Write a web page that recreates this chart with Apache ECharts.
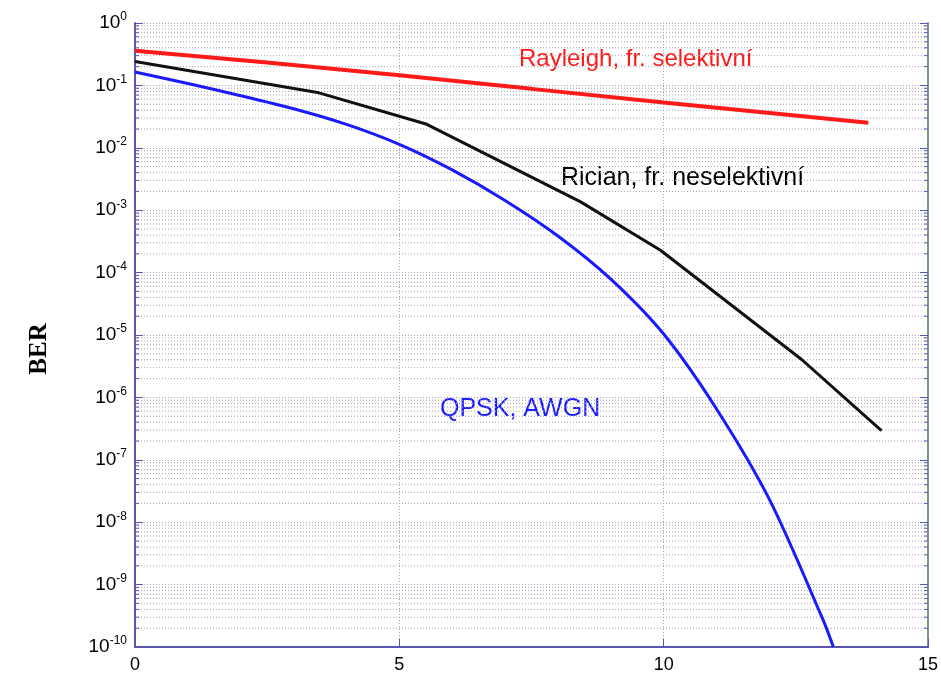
<!DOCTYPE html>
<html>
<head>
<meta charset="utf-8">
<script src="https://cdn.jsdelivr.net/npm/echarts@6/dist/echarts.min.js"></script>
<style>
  html, body { margin: 0; padding: 0; background: #fff; }
  #chart { width: 941px; height: 674px; }
</style>
</head>
<body>
<div id="chart"></div>
<script>
// Eb/N0 [dB] a BER
var awgnX = [0, 1, 2, 3, 4, 5, 6, 7, 8, 9, 10, 11, 12, 13, 13.21];
var awgnY = [0.164, 0.107, 0.0684, 0.0422, 0.0237, 0.01135, 4.42e-3, 1.43e-3, 3.85e-4, 7.85e-5, 1.035e-5, 6.53e-7, 2.32e-8, 2.92e-10, 1.0e-10];

var ricianX = [0, 3.48, 5.52, 8.43, 9.94, 12.61, 14.12];
var ricianY = [0.242, 0.076, 0.0238, 1.36e-3, 2.28e-4, 4.05e-6, 2.93e-7];

var rayleighX = [0, 2.5, 5, 7.5, 10, 13.87];
var rayleighY = [0.358, 0.232, 0.145, 0.088, 0.053, 0.0253];

// mřížka: 2..9 v každé dekádě 1e-10 .. 1e-1
var minorGrid = [];
for (var d = -10; d < 0; d++) {
  for (var m = 2; m <= 9; m++) minorGrid.push([0, m * Math.pow(10, d)]);
}

var gridColor = '#a4a4b4';
var axisColor = '#5a55b0';
var font = '"Liberation Sans", Arial';

var myChart = echarts.init(document.getElementById('chart'));

function gridItem(params, api) {
  var v = api.value(1);
  var p0 = api.coord([0, v]);
  var p1 = api.coord([15, v]);
  return {
    type: 'group',
    children: [
      { type: 'line', shape: { x1: p0[0], y1: p0[1], x2: p1[0], y2: p1[1] },
        style: { stroke: gridColor, lineWidth: 1, lineDash: [1, 2] } },
      { type: 'line', shape: { x1: p0[0], y1: p0[1], x2: p0[0] + 4, y2: p0[1] },
        style: { stroke: axisColor, lineWidth: 1 } },
      { type: 'line', shape: { x1: p1[0] - 4, y1: p1[1], x2: p1[0], y2: p1[1] },
        style: { stroke: axisColor, lineWidth: 1 } }
    ]
  };
}

var option = {
  animation: false,
  backgroundColor: '#fff',
  grid: { left: 135, top: 23, right: 9, bottom: 23 },
  xAxis: {
    type: 'value',
    min: 0,
    max: 15,
    interval: 5,
    axisLine: { show: true, lineStyle: { color: axisColor, width: 2 } },
    axisTick: { show: true, inside: true, length: 8, lineStyle: { color: axisColor } },
    axisLabel: { color: '#000', fontSize: 18, fontFamily: font, margin: 9 },
    splitLine: { show: true, lineStyle: { color: gridColor, type: [1, 2] } }
  },
  yAxis: [{
    type: 'log',
    logBase: 10,
    min: 1e-10,
    max: 1,
    interval: 1,
    splitNumber: 10,
    axisLine: { show: true, lineStyle: { color: axisColor, width: 2 } },
    axisTick: { show: true, inside: true, length: 8, lineStyle: { color: axisColor } },
    axisLabel: {
      margin: 8,
      formatter: function (value) {
        var e = Math.round(Math.log10(value));
        return '{b|10}{e|' + e + '}';
      },
      rich: {
        b: { fontSize: 19, lineHeight: 24, color: '#000', fontFamily: font },
        e: { fontSize: 12, lineHeight: 12, verticalAlign: 'top', color: '#000', fontFamily: font }
      }
    },
    splitLine: { show: true, lineStyle: { color: gridColor, type: [1, 2] } }
  }, {
    type: 'log',
    logBase: 10,
    min: 1e-10,
    max: 1,
    interval: 1,
    splitNumber: 10,
    position: 'right',
    axisLine: { show: true, lineStyle: { color: '#7a9a80', width: 2 } },
    axisTick: { show: true, inside: true, length: 8, lineStyle: { color: axisColor } },
    axisLabel: { show: false },
    splitLine: { show: false }
  }],
  graphic: [
    { type: 'text', x: 40, y: 349, rotation: Math.PI / 2,
      style: { text: 'BER', fill: '#000', font: 'bold 25px "Liberation Serif", "Times New Roman"', textAlign: 'center', textVerticalAlign: 'middle' } },
    { type: 'text', left: 519, top: 47, style: { text: 'Rayleigh, fr. selektivní', fill: '#ff1a1a', font: '24px ' + font } },
    { type: 'text', left: 561, top: 166, style: { text: 'Rician, fr. neselektivní', fill: '#000', font: '25px ' + font } },
    { type: 'text', left: 440, top: 397, style: { text: 'QPSK, AWGN', fill: '#1a1aff', font: '25px ' + font } }
  ],
  series: [
    {
      type: 'custom',
      silent: true,
      renderItem: gridItem,
      data: minorGrid,
      z: 1
    },
    {
      name: 'QPSK, AWGN',
      type: 'line',
      smooth: 0.3,
      showSymbol: false,
      data: awgnX.map(function (x, i) { return [x, awgnY[i]]; }),
      lineStyle: { color: '#1a1aff', width: 3 },
      z: 3
    },
    {
      name: 'Rician, fr. neselektivní',
      type: 'line',
      showSymbol: false,
      data: ricianX.map(function (x, i) { return [x, ricianY[i]]; }),
      lineStyle: { color: '#111', width: 3 },
      z: 3
    },
    {
      name: 'Rayleigh, fr. selektivní',
      type: 'line',
      showSymbol: false,
      data: rayleighX.map(function (x, i) { return [x, rayleighY[i]]; }),
      lineStyle: { color: '#ff1a1a', width: 4 },
      z: 3
    }
  ]
};

myChart.setOption(option);
</script>
</body>
</html>
